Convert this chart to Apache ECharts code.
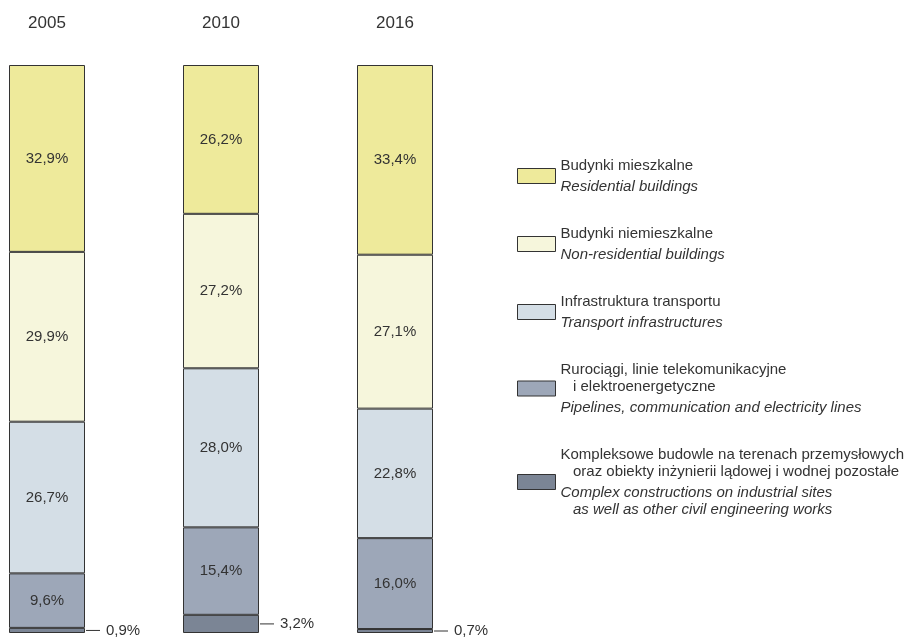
<!DOCTYPE html>
<html>
<head>
<meta charset="utf-8">
<script src="https://cdn.jsdelivr.net/npm/echarts@6/dist/echarts.min.js"></script>
<style>html,body{margin:0;padding:0;background:#fff}#c{width:917px;height:638px}</style>
</head>
<body>
<div id="c"></div>
<script>
const years = ['2005', '2010', '2016'];
const residential = [32.9, 26.2, 33.4];
const nonResidential = [29.9, 27.2, 27.1];
const transport = [26.7, 28.0, 22.8];
const pipelines = [9.6, 15.4, 16.0];
const complexWorks = [0.9, 3.2, 0.7];

const names = {
  res: 'Budynki mieszkalne',
  nonres: 'Budynki niemieszkalne',
  trans: 'Infrastruktura transportu',
  pipe: 'Rurociągi',
  comp: 'Kompleksowe'
};
const legendText = {
  res: ['{a|Budynki mieszkalne}', '{s| }', '{b|Residential buildings}'],
  nonres: ['{a|Budynki niemieszkalne}', '{s| }', '{b|Non-residential buildings}'],
  trans: ['{a|Infrastruktura transportu}', '{s| }', '{b|Transport infrastructures}'],
  pipe: ['{a|Rurociągi, linie telekomunikacyjne}', '{a|   i elektroenergetyczne}', '{s| }', '{b|Pipelines, communication and electricity lines}'],
  comp: ['{a|Kompleksowe budowle na terenach przemysłowych}', '{a|   oraz obiekty inżynierii lądowej i wodnej pozostałe}', '{s| }', '{b|Complex constructions on industrial sites}', '{b|   as well as other civil engineering works}']
};
const colors = {res: '#EEEA9B', nonres: '#F6F6DC', trans: '#D4DEE6', pipe: '#9DA7B8', comp: '#7B8595'};

const FONT = '"Liberation Sans", Arial, sans-serif';
const fmt = v => v.toFixed(1).replace('.', ',') + '%';

function barSeries(key, data, showLabel) {
  return {
    name: names[key],
    type: 'bar',
    stack: 'total',
    barWidth: 76,
    data: data,
    itemStyle: {color: colors[key], borderColor: '#333', borderWidth: 1},
    label: {
      show: showLabel,
      position: 'inside',
      color: '#333',
      fontFamily: FONT,
      fontSize: 15,
      formatter: p => fmt(p.value)
    },
    emphasis: {disabled: true}
  };
}

const chart = echarts.init(document.getElementById('c'), null, {renderer: 'canvas'});
chart.setOption({
  animation: false,
  backgroundColor: '#fff',
  textStyle: {fontFamily: FONT},
  grid: {left: 47, right: 522, top: 65, bottom: 5},
  xAxis: {
    type: 'category',
    data: years,
    position: 'top',
    boundaryGap: false,
    axisLine: {show: false},
    axisTick: {show: false},
    axisLabel: {margin: 33, fontSize: 17, color: '#333', fontFamily: FONT}
  },
  yAxis: {type: 'value', min: 0, max: 100, show: false},
  legend: {
    orient: 'vertical',
    left: 517,
    top: 158,
    padding: 0,
    itemWidth: 38,
    itemHeight: 15,
    itemGap: 32,
    itemTextGap: 14,
    icon: 'rect',
    itemStyle: {borderColor: '#333', borderWidth: 1},
    selectedMode: false,
    data: [names.res, names.nonres, names.trans, names.pipe, names.comp],
    formatter: function (n) {
      const k = Object.keys(names).find(x => names[x] === n);
      return legendText[k].join('\n');
    },
    textStyle: {
      fontFamily: FONT,
      color: '#333',
      rich: {
        a: {fontSize: 15, lineHeight: 17, color: '#333', fontFamily: FONT},
        b: {fontSize: 15, lineHeight: 17, color: '#333', fontStyle: 'italic', fontFamily: FONT},
        s: {fontSize: 2, lineHeight: 4}
      }
    }
  },
  series: [
    barSeries('comp', complexWorks, false),
    barSeries('pipe', pipelines, true),
    barSeries('trans', transport, true),
    barSeries('nonres', nonResidential, true),
    barSeries('res', residential, true),
    {
      type: 'custom',
      silent: true,
      data: complexWorks.map((v, i) => [i, v]),
      renderItem: function (params, api) {
        const p = api.coord([api.value(0), api.value(1) / 2]);
        const x0 = p[0] + 39;
        return {
          type: 'group',
          children: [
            {type: 'line', shape: {x1: x0, y1: p[1], x2: x0 + 14, y2: p[1]}, style: {stroke: '#333', lineWidth: 1}},
            {type: 'text', style: {x: x0 + 20, y: p[1], text: fmt(api.value(1)), fill: '#333', font: '15px ' + FONT, verticalAlign: 'middle', align: 'left'}}
          ]
        };
      }
    }
  ]
});
</script>
</body>
</html>
